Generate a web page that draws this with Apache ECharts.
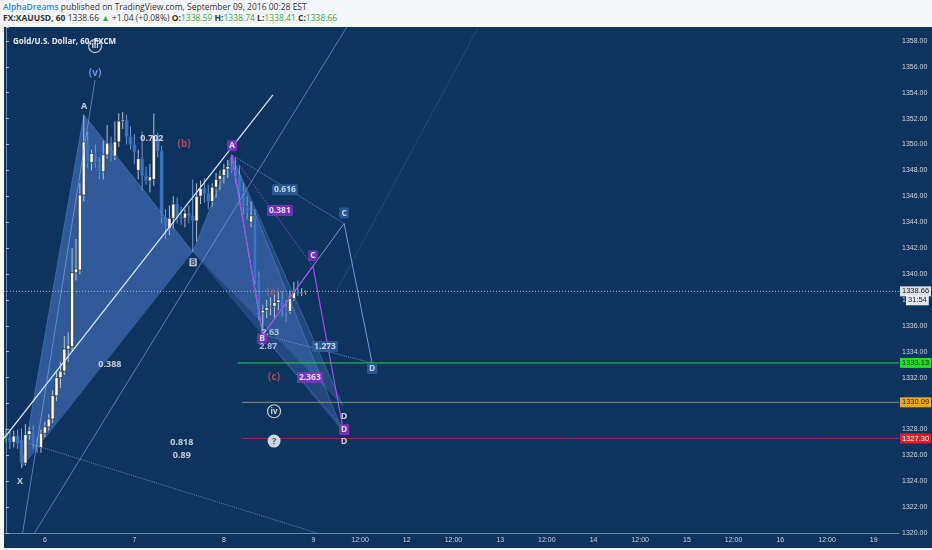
<!DOCTYPE html>
<html>
<head>
<meta charset="utf-8"/>
<title>FX:XAUUSD 60</title>
<script src="https://cdn.jsdelivr.net/npm/echarts@6/dist/echarts.min.js"></script>
<style>
body{margin:0;background:#f5f7fa;width:932px;height:550px;overflow:hidden;position:relative;font-family:'Open Sans',sans-serif;}
#hdr{position:absolute;left:3px;top:1px;font-size:8.5px;color:#333;line-height:11px;white-space:nowrap;}
#hdr .g{color:#3aaa45}
#chart{position:absolute;left:4px;top:27px;width:928px;height:521px;background:#0d335f;}
</style>
</head>
<body>
<div id="hdr">
  <div><span style="color:#2b8ad6;font-weight:600">AlphaDreams</span> published on TradingView.com, September 09, 2016 00:28 EST</div>
  <div><b>FX:XAUUSD, 60</b> 1338.66 <span class="g">&#9650;</span> +1.04 (+0.08%) <b>O:</b><span class="g">1338.59</span> <b>H:</b><span class="g">1338.74</span> <b>L:</b><span class="g">1338.41</span> <b>C:</b><span class="g">1338.66</span></div>
</div>
<div id="chart"></div>
<script type="text/javascript">
// hourly candles, Sep 5 13:00 .. Sep 8 22:00
var open = [1327.6,1327.4,1327.0,1327.5,1327.2,1325.4,1327.6,1327.9,1326.9,1326.6,
  1327.7,1328.2,1328.8,1330.6,1332.0,1332.5,1334.2,1334.4,1340.1,1340.3,
  1346.1,1350.2,1348.6,1349.3,1348.6,1347.9,1349.2,1350.1,1349.1,1350.2,
  1351.8,1351.9,1350.6,1350.0,1348.0,1348.9,1347.6,1347.2,1347.3,1350.7,
  1349.5,1344.4,1343.5,1344.3,1345.4,1344.4,1344.3,1344.7,1344.5,1344.1,
  1346.0,1346.6,1346.2,1345.6,1346.7,1347.3,1347.6,1348.1,1348.3,1348.0,
  1347.6,1346.3,1345.2,1344.0,1344.5,1339.6,1337.0,1337.2,1337.4,1337.5,
  1337.8,1338.0,1337.3,1337.1,1338.1,1338.6,1338.5,1338.59];
var high = [1328.1,1328.0,1327.9,1328.0,1328.1,1328.4,1328.2,1328.3,1327.4,1328.0,
  1328.6,1329.2,1331.0,1332.4,1333.2,1335.2,1335.5,1342.0,1342.7,1347.0,
  1352.3,1351.0,1349.6,1350.0,1349.0,1350.3,1351.5,1350.6,1351.8,1352.4,
  1352.5,1352.3,1351.4,1350.8,1349.6,1351.0,1348.3,1348.5,1352.4,1350.9,
  1349.9,1345.0,1345.3,1346.0,1345.9,1345.2,1345.0,1345.3,1347.3,1347.0,
  1347.2,1347.4,1346.9,1347.0,1347.8,1348.0,1348.5,1348.8,1349.2,1349.0,
  1348.4,1347.0,1346.0,1345.6,1345.0,1340.2,1337.6,1338.0,1338.2,1338.4,
  1338.6,1338.7,1338.0,1338.7,1339.4,1339.5,1338.9,1338.74];
var low = [1327.0,1326.5,1326.6,1326.5,1325.0,1325.2,1327.2,1326.5,1326.2,1326.2,
  1327.4,1327.9,1328.5,1330.2,1331.2,1332.2,1333.2,1334.0,1339.5,1340.0,
  1345.6,1348.2,1348.0,1348.2,1347.3,1347.3,1348.9,1348.7,1348.8,1349.8,
  1351.2,1350.0,1349.6,1348.5,1347.3,1346.4,1346.9,1346.3,1346.8,1349.0,
  1343.9,1342.7,1343.0,1343.5,1343.9,1343.8,1343.6,1343.9,1341.7,1342.5,
  1345.4,1345.5,1345.0,1345.2,1345.9,1346.5,1347.0,1347.4,1347.8,1347.0,
  1345.6,1344.6,1344.2,1343.6,1339.2,1336.4,1335.3,1336.6,1336.8,1336.5,
  1337.2,1336.7,1336.3,1336.9,1337.9,1338.3,1338.3,1338.41];
var close = [1327.4,1327.0,1327.5,1326.9,1325.4,1327.6,1327.9,1326.9,1326.6,1327.7,
  1328.2,1328.8,1330.6,1332.0,1332.5,1334.2,1334.5,1340.1,1340.4,1346.1,
  1350.2,1348.6,1349.3,1348.6,1347.9,1349.2,1350.1,1349.1,1350.2,1351.8,
  1351.9,1350.6,1350.0,1349.4,1348.9,1347.6,1347.2,1347.5,1350.7,1349.5,
  1344.4,1343.6,1344.3,1345.4,1344.4,1344.3,1344.7,1344.5,1344.1,1346.0,
  1346.6,1346.2,1345.6,1346.7,1347.3,1347.6,1348.1,1348.3,1348.0,1347.6,
  1346.3,1345.2,1344.8,1344.5,1339.6,1336.8,1337.2,1337.4,1337.5,1337.8,
  1338.0,1337.3,1337.1,1338.1,1338.6,1338.5,1338.59,1338.66];

// time axis: past bars skip the 17:00 break, future area in half-day steps
var futureDays = ['9','12','13','14','15','16','19','20'];
var N = 230;
function hh(h) { return (h < 10 ? '0' : '') + h + ':00'; }
var categories = [];
for (var d = 5; d <= 8; d++) {
  for (var h = (d === 5 ? 13 : 0); h < 24; h++) {
    if (h === 17) continue;
    categories.push(h === 0 ? String(d) : hh(h));
  }
}
var firstFuture = categories.length;
futureDays.forEach(function (fd) {
  for (var h = 0; h < 24; h++) categories.push(h === 0 ? fd : hh(h));
});
categories = categories.slice(0, N);

// drawings, [bar, price]
var xabcd1 = [[4,1325.0],[20,1352.3],[48,1341.7],[58,1349.2],[86.6,1329.8]];
var xabcd2 = [[4,1325.0],[20,1352.3],[48,1341.7],[58,1349.2],[86.6,1327.8]];
var abcdBlue = [[58,1349.2],[66,1335.3],[86.9,1343.9],[94.1,1333.13]];
var abcdPurple = [[58,1349.2],[66,1335.3],[78.9,1340.6],[86.6,1328.1]];
var trendLine = [[-0.5,1327.31],[68.6,1353.82]];
var rayLine = [[7.34,1320.0],[87.6,1359.07]];
var waveLine = [[4.28,1320.0],[22.9,1354.98]];
var dotLow = [[5.67,1326.95],[79.9,1320.0]];
var dotHigh = [[85.1,1338.76],[121.3,1359.0]];

var levelPrices = [1333.13, 1330.09, 1327.30];
var levelFrom = [59.6, 60.7, 60.7];
var lastPrice = 1338.66;
var countdown = '31:54';

var notes = [
  ['iii', 22.9, 1357.6, 'ring'],
  ['(v)', 22.9, 1355.5, 'wave'],
  ['A', 20.1, 1352.9, 'white'],
  ['0.702', 37.5, 1350.5, 'white'],
  ['(b)', 45.8, 1350.0, 'red'],
  ['A', 58.1, 1349.9, 'purpleBox'],
  ['0.616', 71.7, 1346.5, 'blueBox'],
  ['0.381', 70.4, 1344.9, 'purpleBox'],
  ['C', 86.9, 1344.7, 'blueBox'],
  ['C', 78.9, 1341.4, 'purpleBox'],
  ['B', 48.1, 1340.9, 'whiteBox'],
  ['(a)', 68.6, 1338.6, 'redFaint'],
  ['2.63', 67.9, 1335.5, 'dim'],
  ['B', 65.8, 1335.0, 'purpleBox'],
  ['2.87', 67.4, 1334.4, 'dim'],
  ['1.273', 82.0, 1334.4, 'blueBox'],
  ['D', 94.1, 1332.7, 'blueBox'],
  ['0.388', 26.7, 1333.0, 'white'],
  ['(c)', 68.9, 1332.0, 'red'],
  ['2.363', 78.1, 1332.0, 'purpleBox'],
  ['iv', 68.9, 1329.4, 'ring'],
  ['D', 86.9, 1329.0, 'white'],
  ['D', 86.9, 1328.0, 'purpleBox'],
  ['?', 68.9, 1327.1, 'qmark'],
  ['D', 86.9, 1327.1, 'white'],
  ['0.818', 45.2, 1327.0, 'white'],
  ['0.89', 45.2, 1326.0, 'white'],
  ['X', 3.6, 1324.0, 'white']
];

var FONT = "'Open Sans', sans-serif";
var noteStyle = {
  white: {color:'#eef3fa', fontWeight:'bold', fontSize:9},
  dim: {color:'#c8daf2', fontWeight:'bold', fontSize:9},
  wave: {color:'#7eb0e8', fontWeight:'bold', fontSize:10},
  red: {color:'#e5484d', fontWeight:'bold', fontSize:10},
  redFaint: {color:'rgba(225,100,110,0.55)', fontWeight:'bold', fontSize:10},
  purpleBox: {color:'#ffffff', backgroundColor:'#8b34c6', padding:[1,2], fontWeight:'bold', fontSize:8.5, borderRadius:1},
  blueBox: {color:'#e8f1fc', backgroundColor:'#2f619c', padding:[1,2], fontWeight:'bold', fontSize:8.5, borderRadius:1},
  whiteBox: {color:'#1d3b63', backgroundColor:'#dfe8f4', padding:[0,1], fontWeight:'bold', fontSize:8},
  ring: {color:'#ffffff', borderColor:'#eef3fa', borderWidth:1.2, borderRadius:7, width:11, height:11, lineHeight:11, align:'center', padding:1, fontWeight:'bold', fontSize:8},
  qmark: {color:'#0d335f', backgroundColor:'#ffffff', borderRadius:7, width:11, height:11, lineHeight:11, align:'center', padding:1, fontWeight:'bold', fontSize:9}
};

var fills = [
  [xabcd1[0], xabcd1[1], xabcd1[2]],
  [xabcd2[0], xabcd2[1], xabcd2[2]],
  [xabcd1[2], xabcd1[3], xabcd1[4]],
  [xabcd2[2], xabcd2[3], xabcd2[4]]
];

function seg(points, color, width, type) {
  return {
    type: 'line', xAxisIndex: 1, yAxisIndex: 0, data: points, symbol: 'none', silent: true,
    z: 3, lineStyle: {color: color, width: width || 1, type: type || 'solid'}
  };
}

var series = [];
series.push({
  type: 'custom', xAxisIndex: 1, yAxisIndex: 0, z: 1, silent: true,
  data: fills.map(function (t) { return t[0]; }),
  renderItem: function (params, api) {
    var pts = fills[params.dataIndex].map(function (p) { return api.coord(p); });
    return {type: 'polygon', shape: {points: pts}, style: {fill: 'rgba(100,160,240,0.22)'}};
  }
});
series.push({
  type: 'custom', xAxisIndex: 0, yAxisIndex: 0, z: 2, silent: true,
  data: open.map(function (o, i) { return [i, o, close[i], low[i], high[i]]; }),
  encode: {x: 0, y: [1, 2, 3, 4]},
  renderItem: function (params, api) {
    var i = api.value(0), o = api.value(1), c = api.value(2), l = api.value(3), h = api.value(4);
    var up = c >= o;
    var top = api.coord([i, Math.max(o, c)]), bot = api.coord([i, Math.min(o, c)]);
    var hi = api.coord([i, h]), lo = api.coord([i, l]);
    var bw = 3.2;
    return {type: 'group', children: [
      {type: 'line', shape: {x1: hi[0], y1: hi[1], x2: lo[0], y2: lo[1]},
        style: {stroke: up ? '#b6c3d5' : '#6f9ad6', lineWidth: 1}},
      {type: 'rect', shape: {x: top[0] - bw / 2, y: top[1], width: bw, height: Math.max(1, bot[1] - top[1])},
        style: {fill: up ? '#ffffff' : '#3d74c3', stroke: up ? '#1a1f2a' : '#2b5aa0', lineWidth: 0.6}}
    ]};
  }
});

// harmonic pattern edges
var edge = 'rgba(120,175,240,0.3)';
series.push(seg(xabcd1, edge, 1));
series.push(seg([xabcd2[3], xabcd2[4]], edge, 1));
series.push(seg(abcdBlue, '#6f9fd9', 1));
series.push(seg([abcdBlue[0], abcdBlue[2]], 'rgba(120,165,225,0.8)', 1, 'dotted'));
series.push(seg([abcdBlue[1], abcdBlue[3]], 'rgba(120,165,225,0.8)', 1, 'dotted'));
series.push(seg(abcdPurple, '#a050e6', 1.2));
series.push(seg([abcdPurple[0], abcdPurple[2]], 'rgba(170,90,230,0.8)', 1, 'dotted'));
series.push(seg([abcdPurple[1], abcdPurple[3]], 'rgba(170,90,230,0.8)', 1, 'dotted'));
series.push(seg(trendLine, '#d6e6ff', 1.2));
series.push(seg(rayLine, 'rgba(130,180,240,0.6)', 1));
series.push(seg(waveLine, 'rgba(130,180,240,0.6)', 1));
series.push(seg(dotLow, 'rgba(150,190,240,0.6)', 1, 'dotted'));
series.push(seg(dotHigh, 'rgba(130,170,230,0.35)', 1, 'dotted'));

// horizontal levels with axis tags
var levelLine = ['#2bd13a', '#8f8c72', '#93304a'];
var levelTag = ['#1fe21f', '#f5a41e', '#ee1b24'];
var levelText = ['#0a2a0a', '#2a1a00', '#ffffff'];
levelPrices.forEach(function (p, k) {
  var s = seg([[levelFrom[k], p], [N - 0.5, p]], levelLine[k], 1);
  s.endLabel = {show: true, formatter: p.toFixed(2), distance: 1, backgroundColor: levelTag[k],
    color: levelText[k], fontSize: 7.5, padding: [1, 2], fontFamily: 'Liberation Sans'};
  series.push(s);
});
var pl = seg([[-0.5, lastPrice], [N - 0.5, lastPrice]], 'rgba(195,212,235,0.8)', 1, [1, 2]);
pl.endLabel = {show: true, formatter: lastPrice.toFixed(2), distance: 1, backgroundColor: '#dde2e8',
  color: '#222', fontSize: 7.5, padding: [1, 2], fontFamily: 'Liberation Sans'};
series.push(pl);
var cd = seg([[N - 2, 1337.97], [N - 0.5, 1337.97]], 'rgba(0,0,0,0)', 1);
cd.endLabel = {show: true, formatter: countdown, distance: 1, offset: [6, 0], backgroundColor: '#e6e9ed',
  color: '#222', fontSize: 7.5, padding: [1, 2], fontFamily: 'Liberation Sans'};
series.push(cd);

series.push({
  type: 'scatter', xAxisIndex: 1, yAxisIndex: 0, z: 6, silent: true, clip: false,
  symbolSize: 0,
  data: notes.map(function (n) {
    var st = Object.assign({show: true, position: 'inside', formatter: n[0], fontFamily: FONT}, noteStyle[n[3]]);
    return {value: [n[1], n[2]], label: st};
  })
});

var chart = echarts.init(document.getElementById('chart'));
chart.setOption({
  backgroundColor: '#0d335f',
  animation: false,
  title: {text: 'Gold/U.S. Dollar, 60, FXCM', left: 4, top: 6,
    textStyle: {color: '#e6edf6', fontSize: 8, fontWeight: 'bold', fontFamily: FONT}},
  grid: {left: 0, right: 33, top: 0, bottom: 15, outerBoundsMode: 'none'},
  xAxis: [{
    type: 'category', data: categories, boundaryGap: true,
    axisLine: {lineStyle: {color: 'rgba(190,205,225,0.55)'}},
    axisTick: {alignWithLabel: true, length: 3, lineStyle: {color: 'rgba(200,210,225,0.8)'},
      interval: function (i, v) { return /^\d+$/.test(v) || (i > firstFuture && v === '12:00'); }},
    axisLabel: {color: '#cdd6e2', fontSize: 7, margin: 4, fontFamily: 'Liberation Sans',
      interval: function (i, v) { return /^\d+$/.test(v) || (i > firstFuture && v === '12:00'); }},
    splitLine: {show: false}
  }, {
    type: 'value', min: -0.5, max: N - 0.5, show: false, position: 'top'
  }],
  yAxis: [{
    type: 'value', position: 'right', min: 1320, max: 1359.07, interval: 2, scale: true,
    axisLine: {show: true, lineStyle: {color: 'rgba(190,205,225,0.55)'}},
    axisTick: {show: true, length: 3, lineStyle: {color: 'rgba(200,210,225,0.8)'}},
    axisLabel: {color: '#cdd6e2', fontSize: 7, margin: 3, fontFamily: 'Liberation Sans',
      formatter: function (v) { return Math.abs(v / 2 - Math.round(v / 2)) < 1e-6 ? v.toFixed(2) : ''; }},
    splitLine: {show: false}
  }],
  series: series
});
</script>
</body>
</html>
